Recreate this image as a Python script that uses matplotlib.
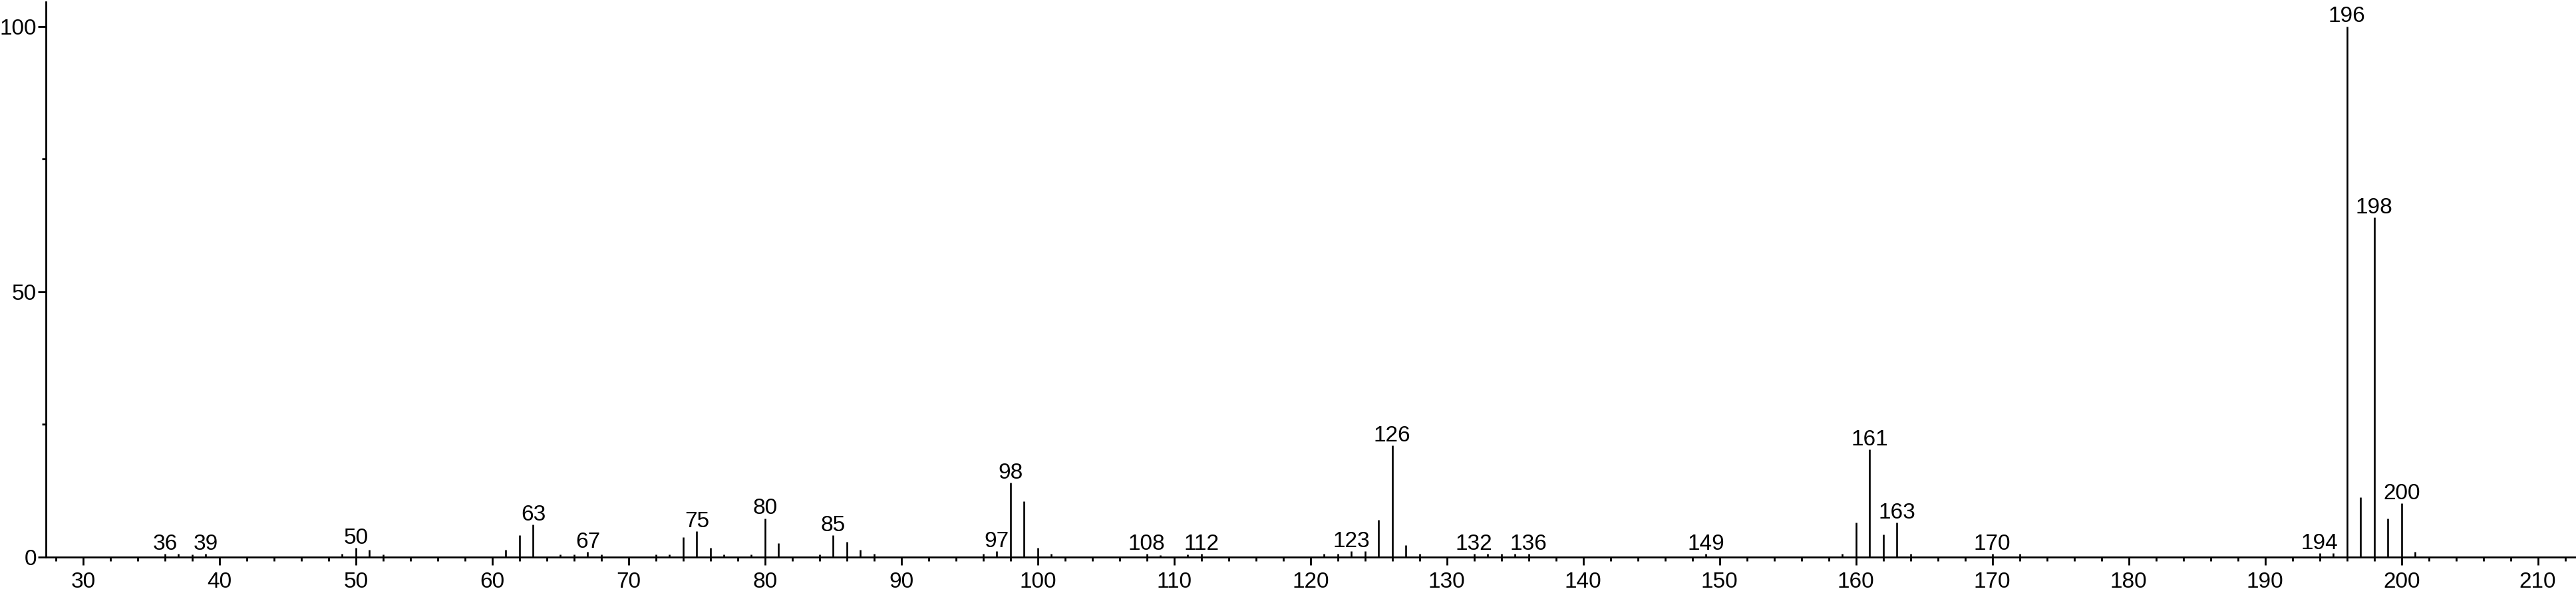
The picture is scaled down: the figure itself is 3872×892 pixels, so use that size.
import matplotlib
matplotlib.use('Agg')
import matplotlib.pyplot as plt
from matplotlib.ticker import MultipleLocator

plt.rcParams['font.family'] = ['Liberation Sans', 'DejaVu Sans']

# mass spectrum: m/z and relative intensity (%)
mz = [36, 37, 38, 39, 49, 50, 51, 52,
      61, 62, 63, 65, 66, 67, 68, 72, 73, 74, 75, 76, 77, 79, 80, 81,
      84, 85, 86, 87, 88, 96, 97, 98, 99, 100, 101,
      108, 109, 111, 112, 121, 122, 123, 124, 125, 126, 127, 128,
      132, 133, 134, 135, 136, 149,
      159, 160, 161, 162, 163, 164, 170, 172,
      194, 195, 196, 197, 198, 199, 200, 201]
intensity = [0.6, 0.6, 0.5, 0.6, 0.6, 1.7, 1.4, 0.5,
             1.4, 4.1, 6.1, 0.5, 0.5, 1.0, 0.5, 0.5, 0.5, 3.8, 4.9, 1.8, 0.5, 0.5, 7.3, 2.6,
             0.5, 4.1, 2.9, 1.4, 0.6, 0.6, 1.1, 14.0, 10.5, 1.8, 0.6,
             0.6, 0.4, 0.5, 0.6, 0.6, 0.6, 1.1, 1.1, 7.0, 21.0, 2.3, 0.6,
             0.6, 0.6, 0.6, 0.6, 0.6, 0.6,
             0.6, 6.5, 20.3, 4.2, 6.5, 0.6, 0.6, 0.6,
             0.7, 0.7, 100.0, 11.3, 64.0, 7.3, 10.1, 1.0]

labeled = [36, 39, 50, 63, 67, 75, 80, 85, 97, 98, 108, 112, 123, 126,
           132, 136, 149, 161, 163, 170, 194, 196, 198, 200]

fig = plt.figure(figsize=(38.72, 8.92), dpi=100)
ax = fig.add_axes([69 / 3872, 54 / 892, 1 - 69 / 3872, 835 / 892])

ax.vlines(mz, 0, intensity, color='black', linewidth=1.9)

for m in labeled:
    ax.annotate(str(m), (m, intensity[mz.index(m)]), xytext=(0, 4.5),
                textcoords='offset points', ha='center', va='baseline',
                fontsize=24)

ax.set_xlim(27.27, 212.8)
ax.set_ylim(0, 104.6)

ax.spines['top'].set_visible(False)
ax.spines['right'].set_visible(False)
ax.spines['left'].set_linewidth(2)
ax.spines['bottom'].set_linewidth(2)

ax.xaxis.set_major_locator(MultipleLocator(10))
ax.xaxis.set_minor_locator(MultipleLocator(2))
ax.yaxis.set_major_locator(MultipleLocator(50))
ax.yaxis.set_minor_locator(MultipleLocator(25))

ax.tick_params(which='major', length=8.6, width=2, labelsize=24, direction='out')
ax.tick_params(which='minor', length=4.3, width=2, direction='out')
ax.tick_params(axis='x', which='major', pad=7)
ax.tick_params(axis='y', which='major', pad=1.5)

fig.savefig('out.png', dpi=100)
